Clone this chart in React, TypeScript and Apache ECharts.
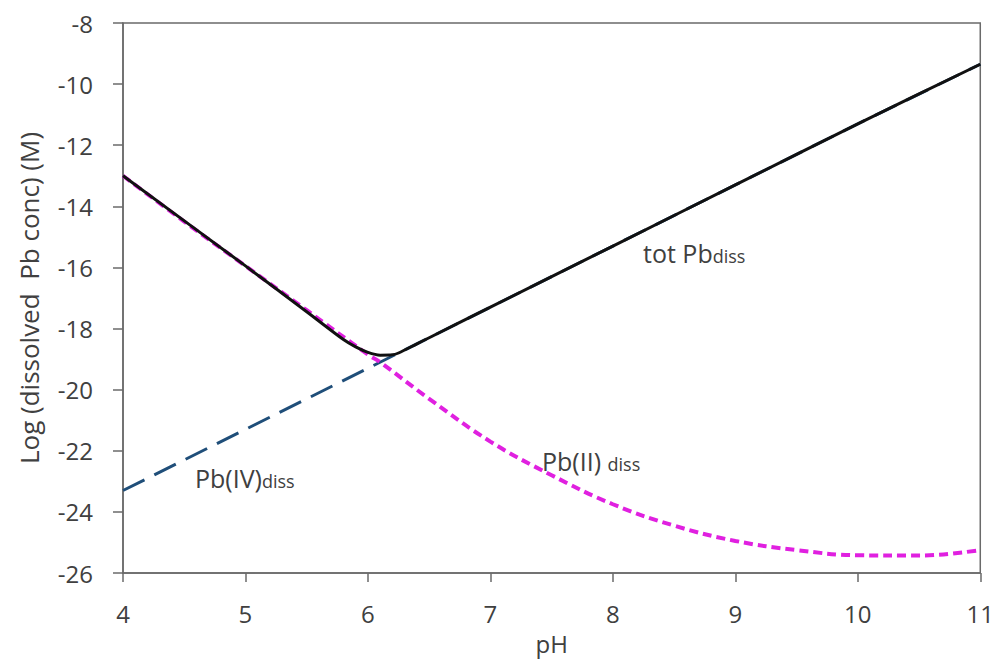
import React, { useEffect, useRef } from "react";
import * as echarts from "echarts";

const xTicks = [4, 5, 6, 7, 8, 9, 10, 11];
const yTicks = [-26, -24, -22, -20, -18, -16, -14, -12, -10, -8];

const pbIIpH = [4, 4.5, 5, 5.5, 6, 6.1, 6.5, 7, 7.5, 8, 8.5, 9, 9.5, 10, 10.5, 11];
const pbIIval = [-13.0, -14.5, -15.95, -17.4, -18.85, -19.1, -20.3, -21.7, -22.8, -23.75, -24.45, -24.95, -25.25, -25.42, -25.43, -25.25];

const pbIVpH = [4, 5, 6, 7, 8, 9, 10, 11];
const pbIVval = [-23.3, -21.3, -19.3, -17.3, -15.3, -13.3, -11.3, -9.35];

const totpH = [4, 5, 5.5, 5.8, 5.9, 6.0, 6.1, 6.2, 6.25, 6.4, 6.5, 7, 8, 9, 10, 11];
const totVal = [-13.0, -15.95, -17.45, -18.36, -18.6, -18.78, -18.87, -18.86, -18.8, -18.5, -18.3, -17.3, -15.3, -13.3, -11.3, -9.35];

const zip = (xs: number[], ys: number[]) => xs.map((x, i) => [x, ys[i]]);

const FONT = "Open Sans";
const TXT = "#404040";

const labelStyle = (main: string, sub: string) => ({
  text: `{a|${main}}{b|${sub}}`,
  fill: TXT,
  fontFamily: FONT,
  rich: {
    a: { fontSize: 25, lineHeight: 25, fontFamily: FONT, fill: TXT, verticalAlign: "top" },
    b: { fontSize: 18, lineHeight: 18, fontFamily: FONT, fill: TXT, verticalAlign: "bottom", padding: [11, 0, 0, 0] },
  },
});

export default function App() {
  const ref = useRef<HTMLDivElement>(null);
  useEffect(() => {
    if (!ref.current) return;
    const chart = echarts.init(ref.current, undefined, { renderer: "svg" });
    chart.setOption({
      animation: false,
      backgroundColor: "#fff",
      grid: { left: 123, top: 23, right: 16, bottom: 83, show: true, borderColor: "#6a6a6a", borderWidth: 1.5 },
      xAxis: {
        type: "value",
        min: 4,
        max: 11,
        interval: 1,
        name: "pH",
        nameLocation: "middle",
        nameGap: 58,
        nameTextStyle: { fontFamily: FONT, fontSize: 24, color: TXT },
        axisLine: { lineStyle: { color: "#6a6a6a", width: 1.5 } },
        axisTick: { show: true, length: 9, inside: false, lineStyle: { color: "#6a6a6a", width: 1.5 } },
        axisLabel: {
          fontFamily: FONT, fontSize: 24, color: TXT, margin: 28,
          formatter: (v: number) => (xTicks.includes(v) ? String(v) : ""),
        },
        splitLine: { show: false },
      },
      yAxis: {
        type: "value",
        min: -26,
        max: -8,
        interval: 2,
        name: "Log (dissolved  Pb conc) (M)",
        nameLocation: "middle",
        nameGap: 81,
        nameRotate: 90,
        nameTextStyle: { fontFamily: FONT, fontSize: 26, color: TXT },
        axisLine: { show: true, onZero: false, lineStyle: { color: "#6a6a6a", width: 1.5 } },
        axisTick: { show: true, length: 10, inside: false, lineStyle: { color: "#6a6a6a", width: 1.5 } },
        axisLabel: {
          fontFamily: FONT, fontSize: 24, color: TXT, margin: 30,
          formatter: (v: number) => (yTicks.includes(v) ? String(v) : ""),
        },
        splitLine: { show: false },
      },
      series: [
        {
          name: "Pb(IV)diss",
          type: "line",
          data: zip(pbIVpH, pbIVval),
          showSymbol: false,
          lineStyle: { color: "#1f4e79", width: 3, type: [24, 11] },
          z: 2,
        },
        {
          name: "Pb(II) diss",
          type: "line",
          data: zip(pbIIpH, pbIIval),
          smooth: 0.4,
          showSymbol: false,
          lineStyle: { color: "#e020e0", width: 4, type: [9, 5] },
          z: 3,
        },
        {
          name: "tot Pbdiss",
          type: "line",
          data: zip(totpH, totVal),
          smooth: 0.3,
          showSymbol: false,
          lineStyle: { color: "#111", width: 3 },
          z: 4,
        },
      ],
      graphic: [
        { type: "text", left: 643, top: 236, style: labelStyle("tot Pb", "diss") },
        { type: "text", left: 195, top: 461, style: labelStyle("Pb(IV)", "diss") },
        { type: "text", left: 542, top: 444, style: labelStyle("Pb(II) ", "diss") },
      ],
    });
    return () => chart.dispose();
  }, []);
  return <div ref={ref} style={{ width: 997, height: 660, position: "absolute", left: 0, top: 0 }} />;
}
